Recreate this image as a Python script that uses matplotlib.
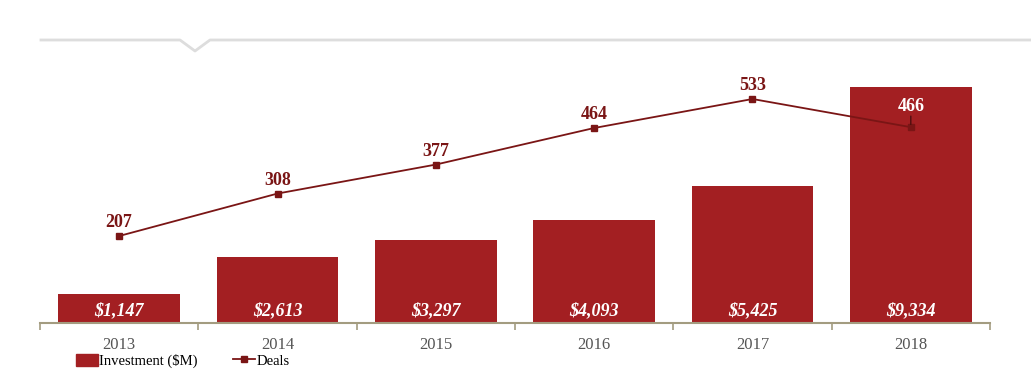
import matplotlib
matplotlib.use("Agg")
import matplotlib.pyplot as plt
from matplotlib.lines import Line2D
from matplotlib.patches import Patch

years = ["2013", "2014", "2015", "2016", "2017", "2018"]
investment = [1147, 2613, 3297, 4093, 5425, 9334]
deals = [207, 308, 377, 464, 533, 466]
inv_labels = ["$1,147", "$2,613", "$3,297", "$4,093", "$5,425", "$9,334"]

bar_color = "#a31f22"
line_color = "#7a1515"
axis_color = "#a39c80"
serif = ["Liberation Serif", "DejaVu Serif"]

fig = plt.figure(figsize=(10.31, 3.77), dpi=100)
W, H = 1031, 377
ax = fig.add_axes([40 / W, (H - 323) / H, 950 / W, 283 / H])
ax2 = ax.twinx()

x = list(range(len(years)))
ax.bar(x, investment, width=0.77, color=bar_color, zorder=2)
ax.set_xlim(-0.5, len(years) - 0.5)
ax.set_ylim(0, 11193)
ax2.set_ylim(0, 673.4)

for xi, v, lab in zip(x, investment, inv_labels):
    ax.annotate(lab, xy=(xi, 0), xytext=(0, 9), textcoords="offset points",
                ha="center", va="center", color="white",
                fontsize=13, fontweight="bold", fontstyle="italic", family=serif)

ax2.plot(x, deals, color=line_color, lw=1.3, marker="s", markersize=4.5, zorder=3)
for xi, d in zip(x, deals):
    if xi == len(years) - 1:
        ax2.annotate(str(d), xy=(xi, d), xytext=(0, 15), textcoords="offset points",
                     ha="center", va="center", color="white", fontsize=13,
                     fontweight="bold", family=serif)
        ax2.annotate("", xy=(xi, d), xytext=(0, 10), textcoords="offset points",
                     arrowprops=dict(arrowstyle="-", color="#3a0a0a", lw=0.8))
    else:
        ax2.annotate(str(d), xy=(xi, d), xytext=(0, 3.5), textcoords="offset points",
                     ha="center", va="bottom", color=line_color, fontsize=13,
                     fontweight="bold", family=serif)

for a in (ax, ax2):
    for s in ("top", "right", "left"):
        a.spines[s].set_visible(False)
    a.set_yticks([])
ax.spines["bottom"].set_color(axis_color)
ax.spines["bottom"].set_linewidth(1.5)
ax2.spines["bottom"].set_visible(False)

ax.set_xticks([i - 0.5 for i in range(len(years) + 1)])
ax.set_xticklabels([])
ax.tick_params(axis="x", length=5, color=axis_color, width=1.2)
ax.set_xticks(x, minor=True)
ax.set_xticklabels(years, minor=True, fontsize=12, color="#555555", family=serif)
ax.tick_params(axis="x", which="minor", length=0, pad=10)

# decorative header line with notch
pts_x = [41, 180, 195, 210, 1031]
pts_y = [40, 40, 51, 40, 40]
fig.lines.append(Line2D([p / W for p in pts_x], [1 - p / H for p in pts_y],
                        transform=fig.transFigure, color="#dddddd", lw=2))

handles = [Patch(color=bar_color, label="Investment ($M)"),
           Line2D([], [], color=line_color, marker="s", markersize=4, lw=1.3, label="Deals")]
fig.legend(handles=handles, loc="center left", bbox_to_anchor=(76 / W, 1 - 361 / H),
           ncol=2, frameon=False, prop={"family": serif, "size": 10.5},
           handlelength=1.5, handleheight=0.9, handletextpad=0.1, columnspacing=2.4,
           borderaxespad=0, borderpad=0)

fig.savefig("out.png", dpi=100)
